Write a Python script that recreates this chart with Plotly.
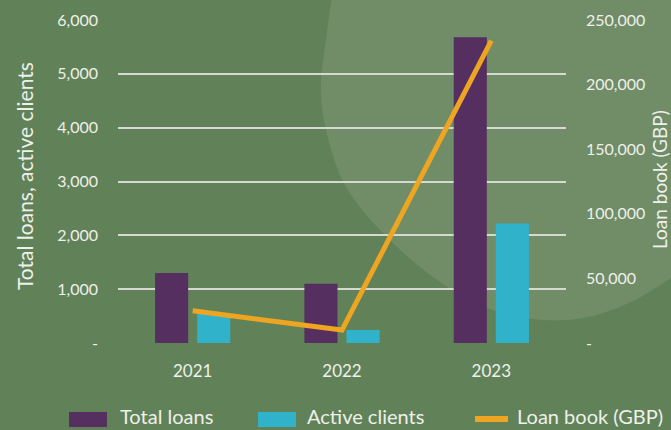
import plotly.graph_objects as go

# ---- data ----
years = ["2021", "2022", "2023"]
total_loans = [1300, 1100, 5680]
active_clients = [540, 240, 2220]
loan_book = [25000, 10000, 234000]

left_tickvals = [0, 1000, 2000, 3000, 4000, 5000, 6000]
left_ticktext = ["-", "1,000", "2,000", "3,000", "4,000", "5,000", "6,000"]
right_tickvals = [0, 50000, 100000, 150000, 200000, 250000]
right_ticktext = ["-", "50,000", "100,000", "150,000", "200,000", "250,000"]

series_names = ["Total loans", "Active clients", "Loan book (GBP)"]
left_title = "Total loans, active clients"
right_title = "Loan book (GBP)"

# ---- style ----
BG = "#618259"
BLOB = "#708d68"
PURPLE = "#552f5f"
CYAN = "#31b2cb"
ORANGE = "#eea521"
TXT = "#eef0ea"
GRID = "#d6d8d2"
FONT = "Lato"

W, H = 671, 430
L, R, T, B = 118, 105, 20, 87
PW, PH = W - L - R, H - T - B


def px(x):
    return (x - L) / PW


def py(y):
    return (H - B - y) / PH


fig = go.Figure()
fig.add_trace(go.Bar(x=years, y=total_loans, name=series_names[0],
                     marker=dict(color=PURPLE, line=dict(width=0))))
fig.add_trace(go.Bar(x=years, y=active_clients, name=series_names[1],
                     marker=dict(color=CYAN, line=dict(width=0))))
fig.add_trace(go.Scatter(x=years, y=loan_book, name=series_names[2], yaxis="y2",
                         mode="lines", line=dict(color=ORANGE, width=5)))

# background blob (decoration), pixel outline converted to paper coords
blob_pts = [(333, -10), (326, 40), (321, 85), (326, 130), (345, 185), (383, 233),
            (433, 277), (483, 306), (533, 319), (583, 318), (633, 301), (680, 272),
            (680, -10)]
path = "M {} {}".format(px(blob_pts[0][0]), py(blob_pts[0][1]))
pts = blob_pts[:-1]
for i in range(len(pts) - 1):
    p0 = pts[i - 1] if i > 0 else pts[i]
    p1 = pts[i]
    p2 = pts[i + 1]
    p3 = pts[i + 2] if i + 2 < len(pts) else pts[i + 1]
    c1 = (p1[0] + (p2[0] - p0[0]) / 6, p1[1] + (p2[1] - p0[1]) / 6)
    c2 = (p2[0] - (p3[0] - p1[0]) / 6, p2[1] - (p3[1] - p1[1]) / 6)
    path += " C {} {}, {} {}, {} {}".format(px(c1[0]), py(c1[1]), px(c2[0]), py(c2[1]),
                                             px(p2[0]), py(p2[1]))
path += " L {} {} Z".format(px(blob_pts[-1][0]), py(blob_pts[-1][1]))

shapes = [dict(type="path", path=path, xref="paper", yref="paper", fillcolor=BLOB,
               line=dict(width=0), layer="below")]

# custom legend
leg_y = 419
shapes.append(dict(type="rect", xref="paper", yref="paper", x0=px(69), x1=px(107),
                   y0=py(412), y1=py(427), fillcolor=PURPLE, line=dict(width=0)))
shapes.append(dict(type="rect", xref="paper", yref="paper", x0=px(258), x1=px(296),
                   y0=py(412), y1=py(427), fillcolor=CYAN, line=dict(width=0)))
shapes.append(dict(type="line", xref="paper", yref="paper", x0=px(475), x1=px(508),
                   y0=py(leg_y), y1=py(leg_y), line=dict(color=ORANGE, width=6)))

leg_bottom = py(429.5)
annotations = [
    dict(text=series_names[0], x=px(118), y=leg_bottom, xref="paper", yref="paper",
         xanchor="left", yanchor="bottom", showarrow=False, font=dict(size=20, color=TXT)),
    dict(text=series_names[1], x=px(305), y=leg_bottom, xref="paper", yref="paper",
         xanchor="left", yanchor="bottom", showarrow=False, font=dict(size=20, color=TXT)),
    dict(text=series_names[2], x=px(515), y=leg_bottom, xref="paper", yref="paper",
         xanchor="left", yanchor="bottom", showarrow=False, font=dict(size=20, color=TXT)),
    dict(text=left_title, x=px(24), y=py(176), xref="paper", yref="paper",
         xanchor="center", yanchor="middle", textangle=-90, showarrow=False,
         font=dict(size=21, color=TXT)),
    dict(text=right_title, x=px(660), y=py(180), xref="paper", yref="paper",
         xanchor="center", yanchor="middle", textangle=-90, showarrow=False,
         font=dict(size=19, color=TXT)),
]

fig.update_layout(
    width=W, height=H,
    margin=dict(l=L, r=R, t=T, b=B, autoexpand=False),
    paper_bgcolor=BG, plot_bgcolor="rgba(0,0,0,0)",
    font=dict(family=FONT, color=TXT, size=16),
    barmode="group", bargap=0.436, bargroupgap=0.214,
    showlegend=False,
    shapes=shapes, annotations=annotations,
    xaxis=dict(type="category", showgrid=False, zeroline=False, showline=False,
               ticks="", tickfont=dict(size=17, color=TXT), ticklabelstandoff=16),
    yaxis=dict(range=[0, 6000], tickvals=left_tickvals, ticktext=left_ticktext,
               showgrid=True, gridcolor=GRID, gridwidth=2, zeroline=False,
               showline=False, ticks="", tickfont=dict(size=16, color=TXT),
               ticklabelstandoff=19),
    yaxis2=dict(range=[0, 250000], tickvals=right_tickvals, ticktext=right_ticktext,
                overlaying="y", side="right", showgrid=False, zeroline=False,
                showline=False, ticks="", tickfont=dict(size=16, color=TXT),
                ticklabelstandoff=19),
)

fig.write_html(
    "out.html",
    config={"displayModeBar": False},
    post_script="document.body.style.margin='0';document.body.style.overflow='hidden';",
)
